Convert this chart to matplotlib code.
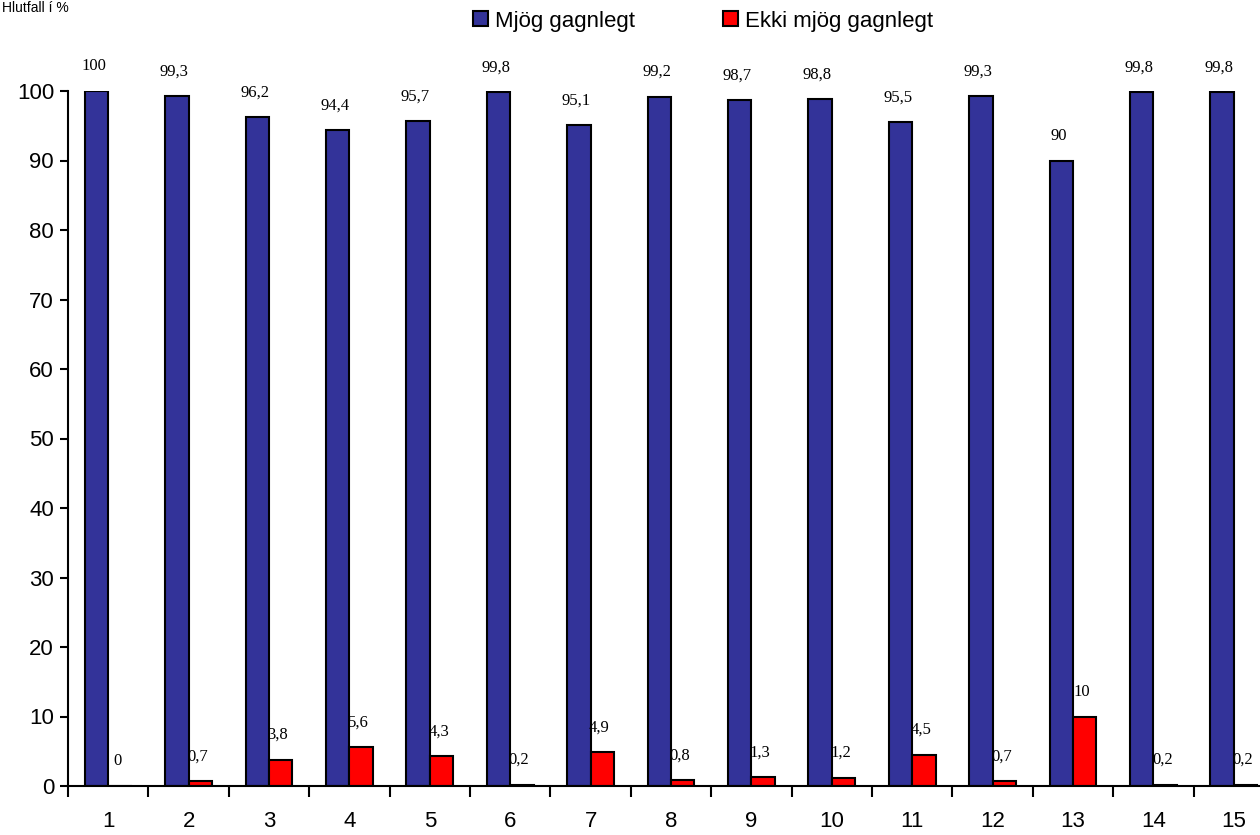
import numpy as np
import matplotlib.pyplot as plt

categories = [str(i) for i in range(1, 16)]
mjog = [100, 99.3, 96.2, 94.4, 95.7, 99.8, 95.1, 99.2, 98.7, 98.8, 95.5, 99.3, 90, 99.8, 99.8]
ekki = [0, 0.7, 3.8, 5.6, 4.3, 0.2, 4.9, 0.8, 1.3, 1.2, 4.5, 0.7, 10, 0.2, 0.2]

plt.rcParams['font.family'] = ['Liberation Sans', 'DejaVu Sans']

fig = plt.figure(figsize=(12.6, 8.35), dpi=100)
ax = fig.add_axes([68 / 1260, 1 - 786 / 835, 1206 / 1260, 695 / 835])

x = np.arange(len(categories))
w = 0.29
b1 = ax.bar(x - w / 2, mjog, w, color='#333399', edgecolor='black', linewidth=1.5,
            label='Mjög gagnlegt')
b2 = ax.bar(x + w / 2, ekki, w, color='#ff0000', edgecolor='black', linewidth=1.5,
            label='Ekki mjög gagnlegt')


def fmt(v):
    s = ('%g' % v).replace('.', ',')
    return s


for bars, vals in [(b1, mjog), (b2, ekki)]:
    for r, v in zip(bars, vals):
        ax.annotate(fmt(v), (r.get_x() + r.get_width() / 2, v), xytext=(-2, 12),
                    textcoords='offset points', ha='center', va='bottom',
                    fontsize=12, family='Liberation Serif', clip_on=False)

ax.set_xlim(-0.5, len(categories) - 0.5)
ax.set_ylim(0, 100)
ax.set_yticks(range(0, 101, 10))
ax.set_xticks(np.arange(-0.5, len(categories), 1.0))
ax.set_xticklabels([])
ax.set_xticks(x, minor=True)
ax.set_xticklabels(categories, minor=True)
ax.tick_params(axis='x', which='major', length=8, width=1.5, direction='out')
ax.tick_params(axis='x', which='minor', length=0, pad=18, labelsize=16)
ax.tick_params(axis='y', length=6, width=1.5, labelsize=16, pad=4)
for s in ['top', 'right']:
    ax.spines[s].set_visible(False)
for s in ['left', 'bottom']:
    ax.spines[s].set_linewidth(1.5)

fig.legend(loc='center', bbox_to_anchor=(0.558, 1 - 21 / 835), ncol=2, frameon=False,
           fontsize=16, handlelength=0.65, handleheight=0.65, columnspacing=4.0,
           handletextpad=0.3)

fig.text(2 / 1260, 1 - 1 / 835, 'Hlutfall í %', ha='left', va='top', fontsize=10)

fig.savefig('out.png', dpi=100)
